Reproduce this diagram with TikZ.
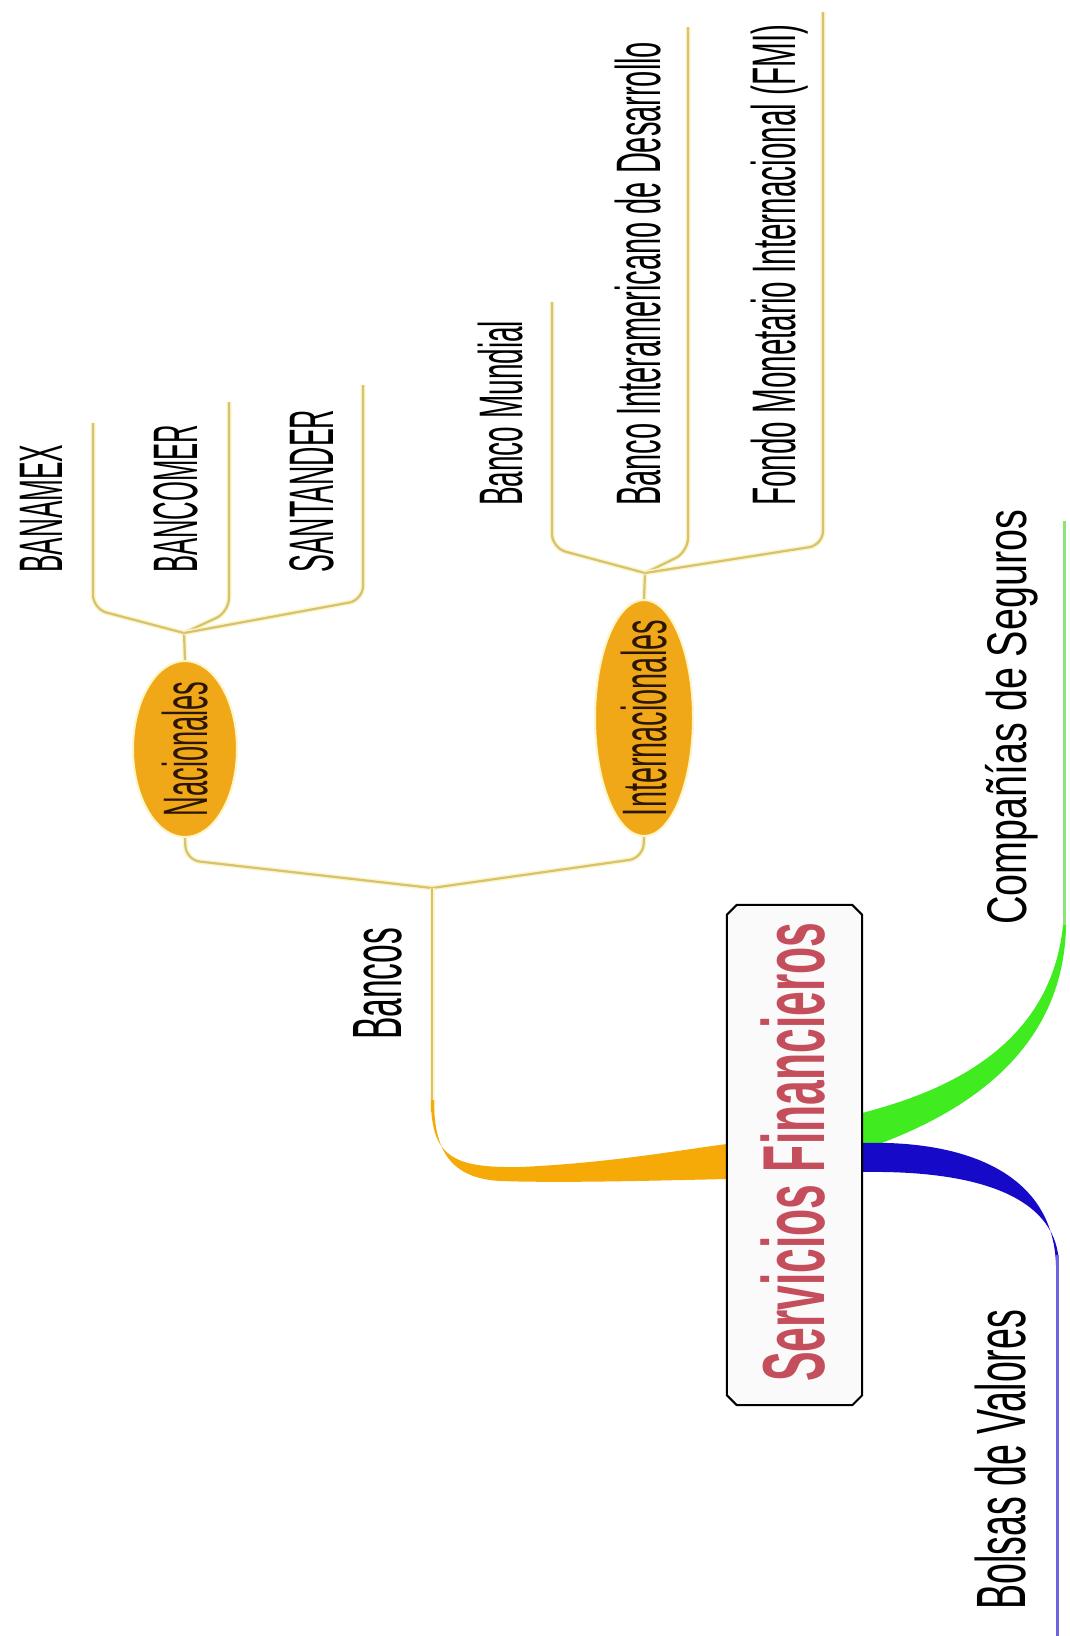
\documentclass[tikz,border=0pt]{standalone}
\usepackage{fontspec}
\setmainfont{Liberation Sans}
\usetikzlibrary{shapes.geometric}
\definecolor{brc}{RGB}{214,194,112}
\definecolor{brglow}{RGB}{252,245,200}
\definecolor{orng}{RGB}{245,170,8}
\definecolor{ell}{RGB}{240,168,24}
\definecolor{grn}{RGB}{64,236,32}
\definecolor{grnl}{RGB}{140,228,120}
\definecolor{blu}{RGB}{22,10,200}
\definecolor{blul}{RGB}{110,100,220}
\definecolor{ttl}{RGB}{196,78,92}
\definecolor{txtd}{RGB}{45,22,0}
\newsavebox\fitb
\newlength\fitlen
\newcommand\fit[3]{\sbox\fitb{#3}\setlength\fitlen{\wd\fitb}\pgfmathsetmacro\fitx{#1/\fitlen}\pgfmathsetmacro\fity{#2/7.16}\scalebox{\fitx}[\fity]{\usebox\fitb}}
\begin{document}
\begin{tikzpicture}[x=1pt,y=-1pt,
  br/.style={draw=brc, line width=2.2pt, preaction={draw=brglow, line width=5pt}},
  lbl/.style={rotate=90, inner sep=0pt, font=\fontsize{10}{12}\selectfont},
  ellnode/.style={ellipse, fill=ell, draw=brglow, line width=2pt, inner sep=0pt},
  boxst/.style={draw=black, line width=2pt, fill={rgb,255:red,250;green,250;blue,250}}]
\useasboundingbox (0,0) rectangle (1069,1636);
\fill[white] (0,0) rectangle (1069,1636);

% named points
\coordinate (jn) at (184,633);
\coordinate (ji) at (645,573);
\coordinate (jb) at (432,888);

% central box node
\node[minimum width=135pt, minimum height=500pt, inner sep=0pt] (sf) at (794.5,1155) {};

% ellipses
\node[ellnode, minimum width=104pt, minimum height=176pt] (nac) at (185,749) {};
\node[ellnode, minimum width=98pt, minimum height=236pt] (int) at (644,718) {};

% yellow branches: Nacionales
\draw[br] (nac.north) -- (jn);
\draw[br, rounded corners=14pt] (jn) -- (93,609) -- (93,423);
\draw[br, rounded corners=14pt] (jn) -- (229,612) -- (229,402);
\draw[br, rounded corners=14pt] (jn) -- (363,600) -- (363,385);
% Internacionales
\draw[br] (int.north) -- (ji);
\draw[br, rounded corners=14pt] (ji) -- (552,548) -- (552,302);
\draw[br, rounded corners=14pt] (ji) -- (688,552) -- (688,27);
\draw[br, rounded corners=14pt] (ji) -- (823,545) -- (823,12);
% Bancos
\draw[br, rounded corners=14pt] (nac.south) -- (186,860) -- (jb);
\draw[br, rounded corners=14pt] (int.south) -- (643,858) -- (jb);
\draw[br] (jb) -- (432,1112);

% orange wedge
\fill[orng] (431,1100) .. controls (431,1158) and (455,1168) .. (520,1167)
  .. controls (610,1163) and (680,1150) .. ([yshift=11pt]sf.west)
  -- ([yshift=-24pt]sf.west) .. controls (640,1181) and (560,1183) .. (500,1181)
  .. controls (450,1178) and (434,1150) .. (434,1100) -- cycle;

% green branch
\coordinate (gtop) at (1064,521);
\draw[grnl, line width=3pt] (gtop) -- (1064,935);
\fill[grn] ([yshift=42pt]sf.east) .. controls (930,1095) and (1050,1055) .. (1063,925)
  -- (1066,925) .. controls (1064,1060) and (950,1120) .. ([yshift=5pt]sf.east) -- cycle;

% blue branch
\coordinate (bbot) at (1057,1636);
\fill[blu] ([yshift=12pt]sf.east) .. controls (960,1140) and (1053,1170) .. (1056,1265)
  -- (1059,1265) .. controls (1058,1200) and (985,1170) .. ([yshift=-17pt]sf.east) -- cycle;
\draw[blul, line width=3pt] (1057,1255) -- (bbot);

% box outline
\draw[boxst] ([xshift=10pt]sf.north west) -- ([xshift=-10pt]sf.north east)
  -- ([yshift=-10pt]sf.north east) -- ([yshift=10pt]sf.south east)
  -- ([xshift=-10pt]sf.south east) -- ([xshift=10pt]sf.south west)
  -- ([yshift=10pt]sf.south west) -- ([yshift=-10pt]sf.north west) -- cycle;

% texts
\node[lbl, font=\fontsize{10}{12}\selectfont\bfseries, text=ttl, anchor=base west] (sft) at (824,1382) {\fit{459}{63}{Servicios Financieros}};
\node[lbl, text=txtd] (nact) at (nac.center) {\fit{135}{45}{Nacionales}};
\node[lbl, text=txtd] (intt) at (int.center) {\fit{196}{45}{Internacionales}};
\node[lbl, anchor=base west] (banamex) at (62,573) {\fit{128}{44}{BANAMEX}};
\node[lbl, anchor=base west] (bancomer) at (197,573) {\fit{148}{45}{BANCOMER}};
\node[lbl, anchor=base west] (santander) at (333,573) {\fit{163}{45}{SANTANDER}};
\node[lbl, anchor=base west] (bm) at (522,506) {\fit{185}{44}{Banco Mundial}};
\node[lbl, anchor=base west] (bid) at (660,506) {\fit{464}{45}{Banco Interamericano de Desarrollo}};
\node[lbl, anchor=base west] (fmi) at (795,506) {\fit{481}{44}{Fondo Monetario Internacional (FMI)}};
\node[lbl, anchor=base west] (bancos) at (401,1040) {\fit{112}{50}{Bancos}};
\node[lbl, anchor=base west] (cs) at (1026,925) {\fit{415}{40}{Compañías de Seguros}};
\node[lbl, anchor=base west] (bv) at (1025,1610) {\fit{300}{50}{Bolsas de Valores}};
\end{tikzpicture}
\end{document}
